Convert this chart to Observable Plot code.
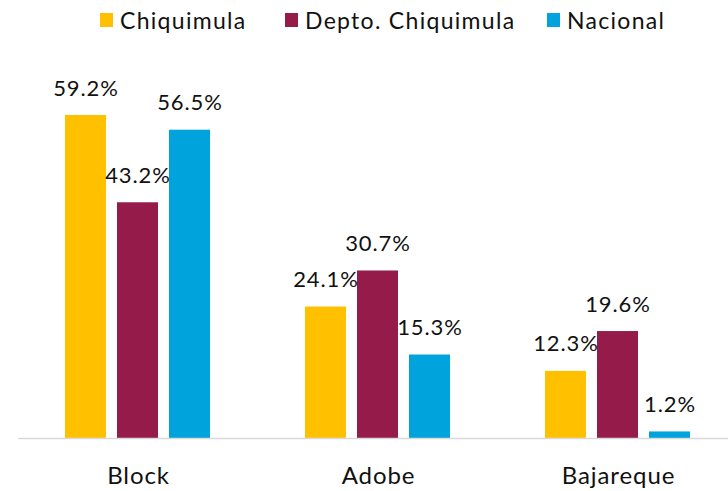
<!DOCTYPE html>
<html><head><meta charset="utf-8">
<script src="https://cdn.jsdelivr.net/npm/d3@7"></script>
<script src="https://cdn.jsdelivr.net/npm/@observablehq/plot@0.6"></script>
<style>
body{margin:0;background:#fff;font-family:Lato,"Open Sans",sans-serif;}
#legend{position:relative;height:42px;width:728px;}
.li{position:absolute;top:6px;display:flex;align-items:center;font-size:23px;color:#111;letter-spacing:1.3px;}
.sw{width:13px;height:14px;margin-right:7px;display:inline-block;}
</style></head>
<body>
<div id="legend"></div>
<div id="chart"></div>
<script>
const categories = ["Block", "Adobe", "Bajareque"];
const seriesNames = ["Chiquimula", "Depto. Chiquimula", "Nacional"];
const chiquimula = [59.2, 24.1, 12.3];
const depto = [43.2, 30.7, 19.6];
const nacional = [56.5, 15.3, 1.2];
const colors = ["#FFC000", "#951B4B", "#00A3DB"];

const seriesValues = [chiquimula, depto, nacional];
const data = [];
categories.forEach((c, i) => seriesNames.forEach((s, j) => data.push({cat: c, series: s, value: seriesValues[j][i]})));

const legendPos = [100, 285, 547];
const lg = document.getElementById("legend");
seriesNames.forEach((s, j) => {
  const d = document.createElement("div");
  d.className = "li";
  d.style.left = legendPos[j] + "px";
  d.innerHTML = `<span class="sw" style="background:${colors[j]}"></span><span>${s}</span>`;
  lg.appendChild(d);
});

const chart = Plot.plot({
  width: 728,
  height: 449,
  marginLeft: 18,
  marginRight: -10,
  marginTop: 68.6,
  marginBottom: 53,
  style: {fontFamily: "Lato, 'Open Sans', sans-serif", fontSize: "22px", color: "#111", letterSpacing: "0.9px"},
  fx: {domain: categories, padding: 0, label: null, axis: null},
  x: {domain: seriesNames, paddingInner: 0.2075, paddingOuter: 0.868, axis: null},
  y: {domain: [0, 60], axis: null},
  color: {domain: seriesNames, range: colors},
  marks: [
    Plot.barY(data, {fx: "cat", x: "series", y: "value", fill: "series"}),
    Plot.text(data, {fx: "cat", x: "series", y: "value", text: d => d.value.toFixed(1) + "%", dy: -27, fontSize: 22, fill: "#111"}),
    Plot.axisFx({anchor: "bottom", tickSize: 0, tickPadding: 0, dy: 28, fontSize: 24, label: null}),
    Plot.ruleY([0], {stroke: "#d9d9d9", strokeWidth: 1.5})
  ]
});
document.getElementById("chart").appendChild(chart);
</script>
</body></html>
